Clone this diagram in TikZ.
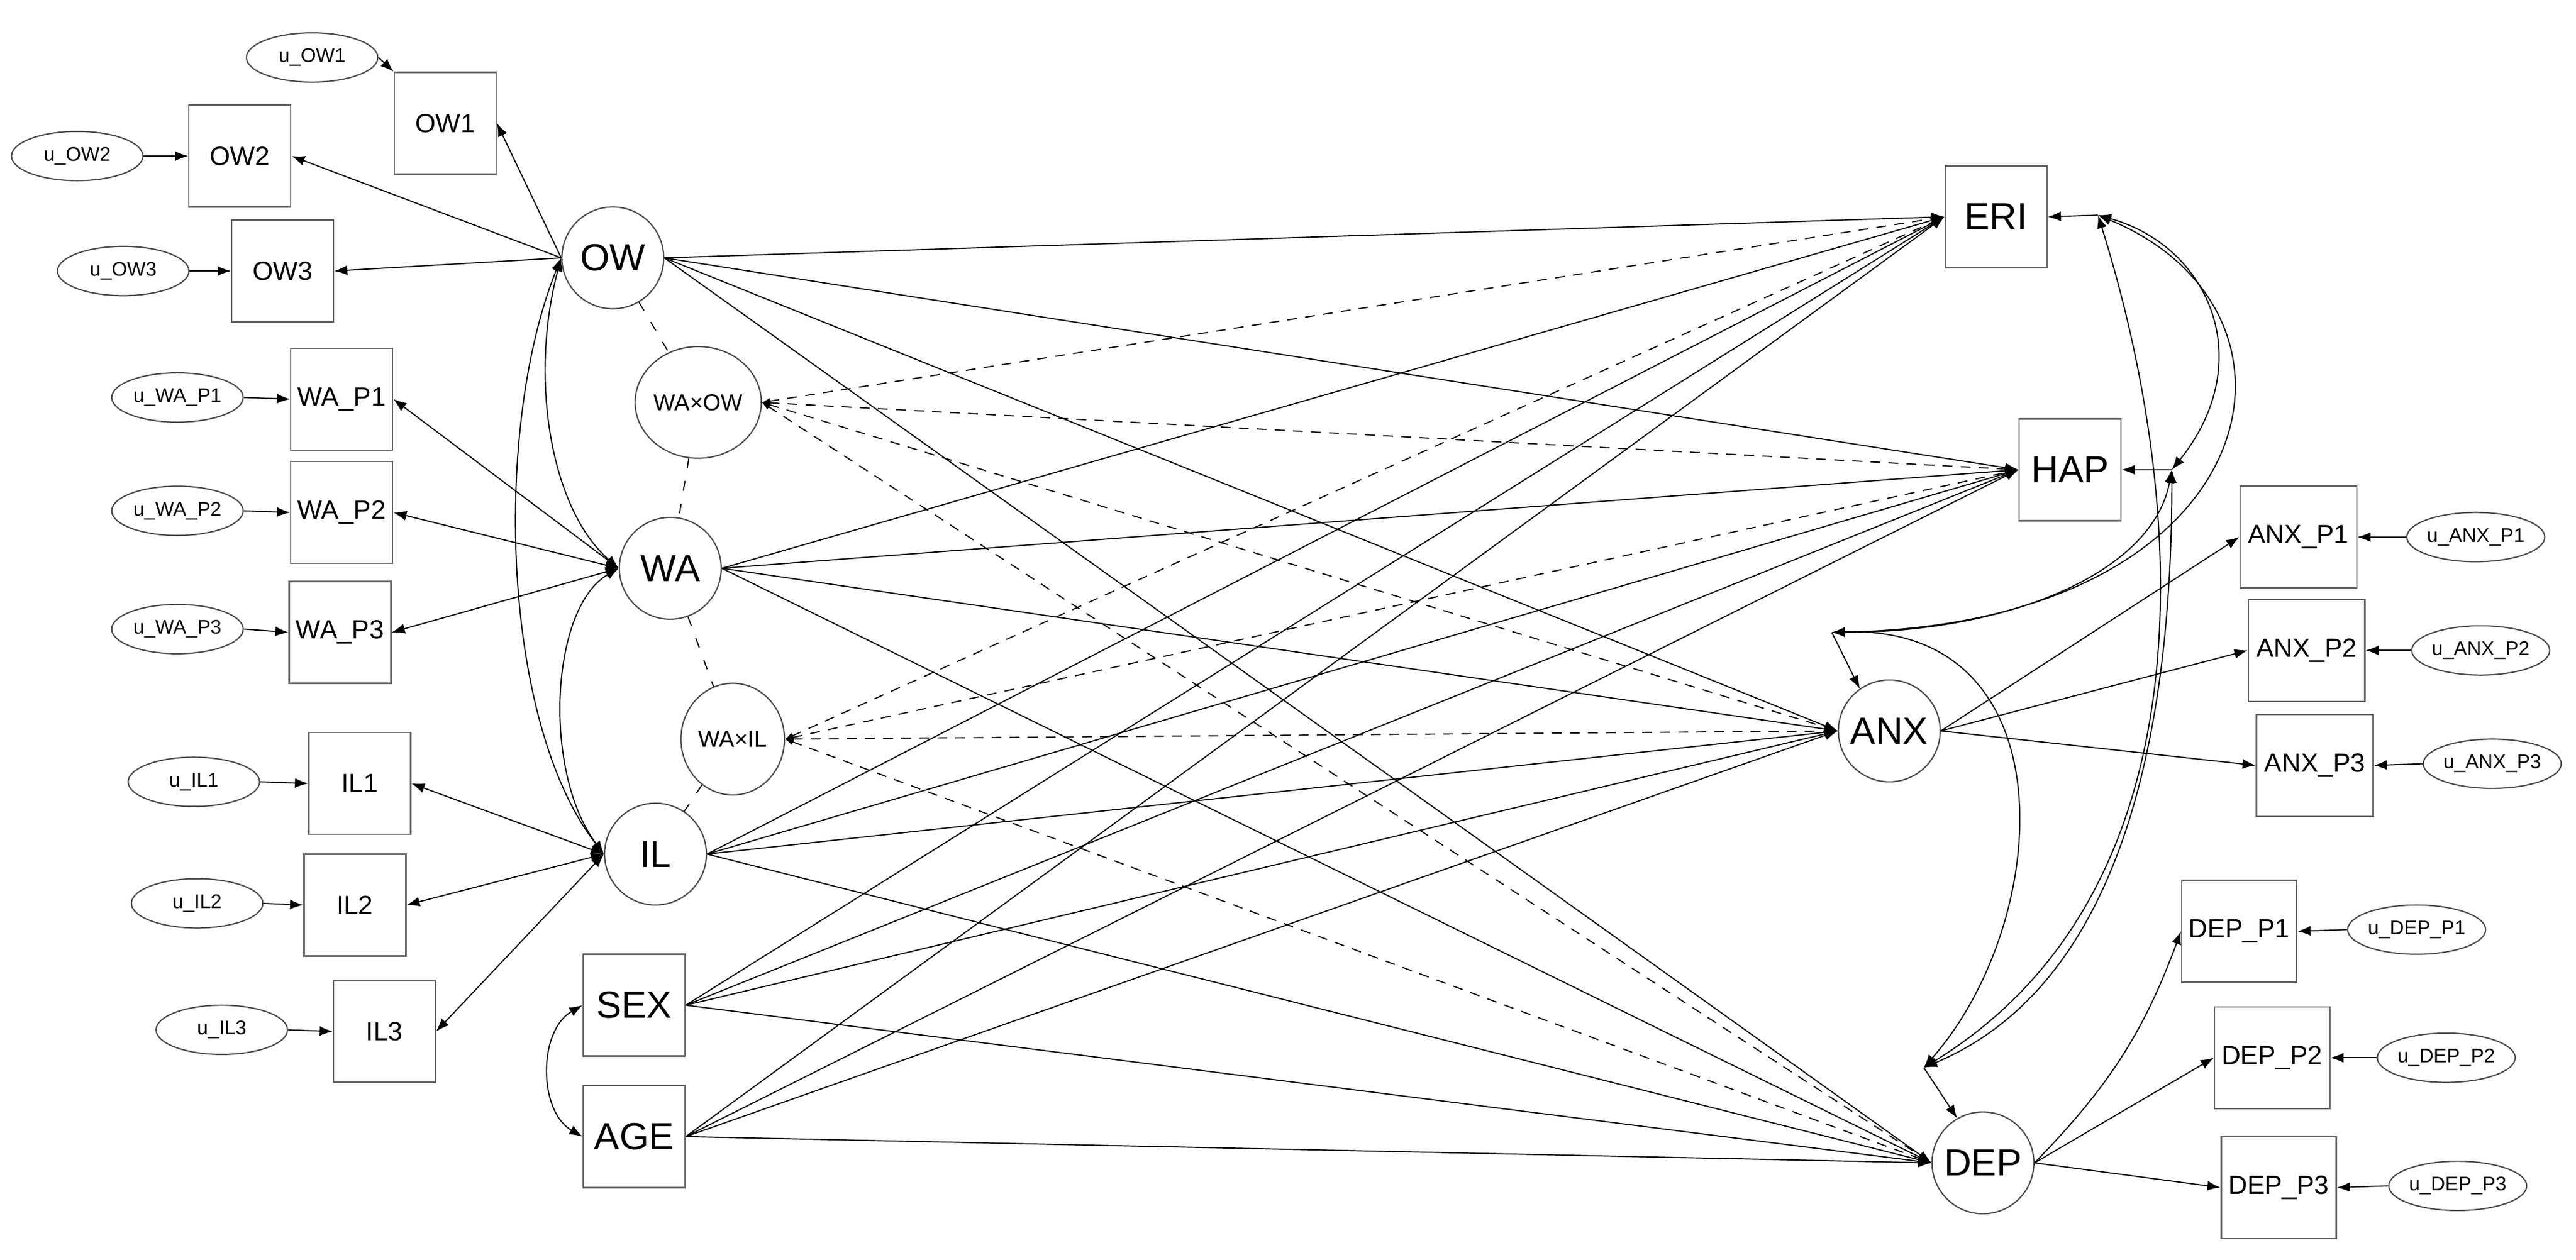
\documentclass[tikz,border=0pt]{standalone}
\usepackage{fontspec}
\setmainfont{Liberation Sans}
\usetikzlibrary{arrows.meta,shapes.geometric}
\newcommand\fsz[1]{\fontsize{#1}{#1}\selectfont}
\begin{document}
\begin{tikzpicture}[x=1pt,y=-1pt,
  line width=0.7pt,
  tip/.style={-{Latex[length=8pt,width=6pt]}},
  both/.style={{Latex[length=8pt,width=6pt]}-{Latex[length=8pt,width=6pt]}},
  box/.style={draw=black!60,line width=0.9pt,minimum width=62pt,minimum height=62pt,inner sep=0pt},
  wbox/.style={box,minimum width=71pt},
  lat/.style={draw=black!70,line width=0.8pt,circle,minimum size=62pt,inner sep=0pt,font=\fsz{23}},
  inter/.style={draw=black!70,line width=0.8pt,ellipse,minimum width=63pt,minimum height=68pt,inner sep=0pt,font=\fsz{14}},
  err/.style={draw=black!70,line width=0.8pt,ellipse,minimum width=80pt,minimum height=30pt,inner sep=0pt,font=\fsz{12}},
  ind/.style={font=\fsz{16}},
  big/.style={font=\fsz{23}},
  dsh/.style={dashed,dash pattern=on 6pt off 5pt,{Latex[length=5pt,width=4pt]}-{Latex[length=8pt,width=6pt]}},
  cov/.style={both}
]
\useasboundingbox (0,0) rectangle (1568,767);
% left indicators
\node[err] (uOW1) at (190,35) {u\_OW1};
\node[box,ind] (OW1) at (271,75) {OW1};
\node[err] (uOW2) at (47,95) {u\_OW2};
\node[box,ind] (OW2) at (146,95) {OW2};
\node[err] (uOW3) at (75,165) {u\_OW3};
\node[box,ind] (OW3) at (172,165) {OW3};
\node[err] (uWA1) at (108,242) {u\_WA\_P1};
\node[box,ind] (WA1) at (208,243) {WA\_P1};
\node[err] (uWA2) at (108,311) {u\_WA\_P2};
\node[box,ind] (WA2) at (208,312) {WA\_P2};
\node[err] (uWA3) at (108,383) {u\_WA\_P3};
\node[box,ind] (WA3) at (207,385) {WA\_P3};
\node[err] (uIL1) at (118,476) {u\_IL1};
\node[box,ind] (IL1) at (219,477) {IL1};
\node[err] (uIL2) at (120,550) {u\_IL2};
\node[box,ind] (IL2) at (216,551) {IL2};
\node[err] (uIL3) at (135,627) {u\_IL3};
\node[box,ind] (IL3) at (234,628) {IL3};
% latents
\node[lat] (OW) at (373,157) {OW};
\node[inter] (WAxOW) at (425,245) {WA×OW};
\node[lat] (WA) at (408,346) {WA};
\node[inter] (WAxIL) at (446,450) {WA×IL};
\node[lat] (IL) at (399,520) {IL};
\node[box,big] (SEX) at (386,612) {SEX};
\node[box,big] (AGE) at (386,692) {AGE};
% outcomes
\node[box,big] (ERI) at (1215,132) {ERI};
\node[box,big] (HAP) at (1260,286) {HAP};
\node[lat] (ANX) at (1150,445) {ANX};
\node[lat] (DEP) at (1207,708) {DEP};
% right indicators
\node[wbox,ind] (AP1) at (1399,327) {ANX\_P1};
\node[err] (uAP1) at (1507,327) {u\_ANX\_P1};
\node[wbox,ind] (AP2) at (1404,396) {ANX\_P2};
\node[err] (uAP2) at (1510,396) {u\_ANX\_P2};
\node[wbox,ind] (AP3) at (1409,466) {ANX\_P3};
\node[err] (uAP3) at (1517,465) {u\_ANX\_P3};
\node[box,minimum width=70pt,ind] (DP1) at (1363,567) {DEP\_P1};
\node[err] (uDP1) at (1471,566) {u\_DEP\_P1};
\node[box,minimum width=70pt,ind] (DP2) at (1383,644) {DEP\_P2};
\node[err] (uDP2) at (1489,644) {u\_DEP\_P2};
\node[box,minimum width=70pt,ind] (DP3) at (1387,723) {DEP\_P3};
\node[err] (uDP3) at (1496,722) {u\_DEP\_P3};
% stubs
\coordinate (eS) at (1277,131);
\coordinate (hS) at (1322,286);
\coordinate (aS) at (1115,385);
\coordinate (dS) at (1171,650);

% error arrows
\foreach \u/\v in {uOW2/OW2,uOW3/OW3,uWA1/WA1,uWA2/WA2,uWA3/WA3,uIL1/IL1,uIL2/IL2,uIL3/IL3}
  \draw[tip] (\u.east) -- (\v.west);
\draw[tip] (uOW1.east) -- (OW1.north west);
\foreach \u/\v in {uAP1/AP1,uAP2/AP2,uAP3/AP3,uDP1/DP1,uDP2/DP2,uDP3/DP3}
  \draw[tip] (\u.west) -- (\v.east);
% loadings
\draw[tip] (OW.west) -- (OW1.east);
\draw[tip] (OW.west) -- (OW2.east);
\draw[tip] (OW.west) -- (OW3.east);
\foreach \v in {WA1,WA2,WA3} \draw[both] (WA.west) -- (\v.east);
\foreach \v in {IL1,IL2,IL3} \draw[both] (IL.west) -- (\v.east);
\foreach \v in {AP1,AP2,AP3} \draw[tip] (ANX.east) -- (\v.west);
\draw[tip] (DEP.east) to[bend right=12] (DP1.west);
\draw[tip] (DEP.east) -- (DP2.west);
\draw[tip] (DEP.east) -- (DP3.west);
% latent covariances
\draw[cov] (OW.west) .. controls (322,230) and (335,310) .. (WA.west);
\draw[cov] (OW.west) .. controls (300,260) and (305,440) .. (IL.west);
\draw[cov] (WA.west) .. controls (335,370) and (330,470) .. (IL.west);
\draw[cov] (SEX.west) to[out=210,in=150] (AGE.west);
% dashed product links
\draw[dashed,dash pattern=on 6pt off 8pt] (OW) -- (WAxOW) -- (WA) -- (WAxIL) -- (IL);
% structural paths
\foreach \s in {OW,WA,IL,SEX,AGE}{
  \draw[tip] (\s.east) -- (ERI.west);
  \draw[tip] (\s.east) -- (HAP.west);
  \draw[tip] (\s.east) -- (ANX.west);
  \draw[tip] (\s.east) -- (DEP.west);
}
\foreach \s in {WAxOW,WAxIL}{
  \draw[dsh] (\s.east) -- (ERI.west);
  \draw[dsh] (\s.east) -- (HAP.west);
  \draw[dsh] (\s.east) -- (ANX.west);
  \draw[dsh] (\s.east) -- (DEP.west);
}
% residuals
\draw[tip] (eS) -- (ERI.east);
\draw[tip] (hS) -- (HAP.east);
\draw[tip] (aS) -- (ANX.125);
\draw[tip] (dS) -- (DEP.120);
\draw[cov] (eS) .. controls (1345,150) and (1375,220) .. (hS);
\draw[cov] (eS) .. controls (1420,190) and (1380,380) .. (aS);
\draw[cov] (eS) .. controls (1330,300) and (1350,540) .. (dS);
\draw[cov] (hS) .. controls (1322,450) and (1290,600) .. (dS);
\draw[cov] (hS) .. controls (1310,350) and (1220,385) .. (aS);
\draw[cov] (aS) .. controls (1260,380) and (1250,560) .. (dS);
\end{tikzpicture}
\end{document}
